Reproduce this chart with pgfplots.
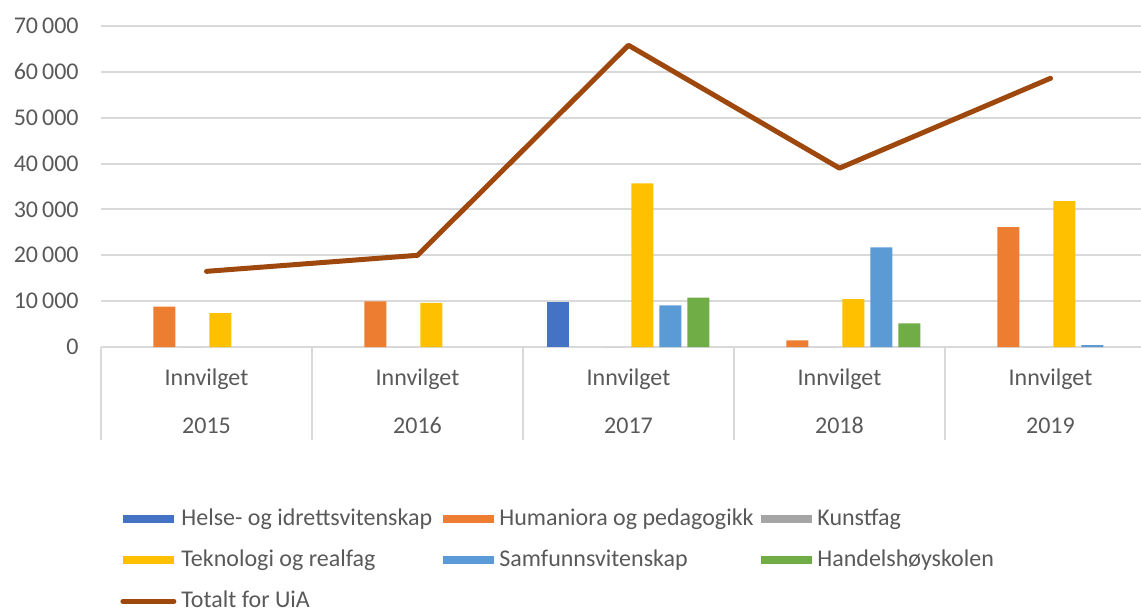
\documentclass[border=0pt]{standalone}
\usepackage{fontspec}
\setmainfont{Carlito}
\usepackage{pgfplots}
\pgfplotsset{compat=1.18}
\definecolor{cHelse}{HTML}{4472C4}
\definecolor{cHum}{HTML}{ED7D31}
\definecolor{cKunst}{HTML}{A5A5A5}
\definecolor{cTek}{HTML}{FFC000}
\definecolor{cSam}{HTML}{5B9BD5}
\definecolor{cHan}{HTML}{70AD47}
\definecolor{cTot}{HTML}{9E480E}
\definecolor{cGrid}{HTML}{D9D9D9}
\definecolor{cText}{HTML}{595959}
\newcommand{\lt}[1]{\makebox[131pt][l]{#1}}
\pgfplotsset{
  mybar/.style={ybar, bar width=11pt, draw=none,
    legend image code/.code={\fill[##1,draw=none] (0pt,-2pt) rectangle (25.5pt,2pt); \path (28pt,0pt);}},
  myline/.style={line width=2.5pt, line cap=round, line join=round, mark=none,
    legend image code/.code={\draw[##1] (0pt,0pt) -- (25.5pt,0pt); \path (28pt,0pt);}},
}
\begin{document}
\begin{tikzpicture}
\useasboundingbox (-50.5pt,-132.5pt) rectangle (520pt,173.5pt);
\begin{axis}[
  scale only axis, width=520pt, height=160.5pt,
  xmin=-0.5, xmax=4.429, ymin=0, ymax=70000,
  clip=false,
  font=\fontsize{12}{14}\selectfont,
  axis line style={draw=none},
  ytick={0,10000,...,70000},
  ymajorgrids, grid style={cGrid, line width=1pt},
  major tick length=0pt,
  y tick label style={text=cText, anchor=east, inner sep=0pt, xshift=-11pt},
  /pgf/number format/assume math mode=true,
  /pgf/number format/1000 sep={\,},
  scaled y ticks=false,
  xtick={-0.5,0.5,...,3.5}, xticklabels={}, xtick pos=left,
  x tick style={cGrid, line width=1pt},
  xtick align=outside,
  x tick style={/pgfplots/major tick length=46.5pt},
  legend columns=3,
  legend style={draw=none, fill=none, inner sep=0pt,
    at={(0,0)}, anchor=north west, xshift=9.5pt, yshift=-80pt,
    column sep=0pt, row sep=8.5pt,
    cells={anchor=west},
    nodes={inner sep=0pt, text height=9pt, text depth=3pt, text=cText},
    font=\fontsize{12}{14}\selectfont},
]
\addplot[mybar, bar shift=-35pt, fill=cHelse] coordinates {(2,9900)};
\addlegendentry{\lt{Helse- og idrettsvitenskap}}
\addplot[mybar, bar shift=-21pt, fill=cHum] coordinates {(0,8800) (1,9950) (3,1450) (4,26150)};
\addlegendentry{\lt{Humaniora og pedagogikk}}
\addplot[mybar, bar shift=-7pt, fill=cKunst] coordinates {(0,0) (1,0) (2,0) (3,0) (4,0)};
\addlegendentry{\lt{Kunstfag}}
\addplot[mybar, bar shift=7pt, fill=cTek] coordinates {(0,7400) (1,9650) (2,35700) (3,10450) (4,31800)};
\addlegendentry{\lt{Teknologi og realfag}}
\addplot[mybar, bar shift=21pt, fill=cSam] coordinates {(2,9100) (3,21700) (4,400)};
\addlegendentry{\lt{Samfunnsvitenskap}}
\addplot[mybar, bar shift=35pt, fill=cHan] coordinates {(2,10750) (3,5150)};
\addlegendentry{\lt{Handelshøyskolen}}
\addplot[myline, cTot] coordinates {(0,16500) (1,20000) (2,65800) (3,39000) (4,58600)};
\addlegendentry{\lt{Totalt for UiA}}
\pgfplotsinvokeforeach{0,...,4}{
  \node[anchor=base, text=cText, inner sep=0pt] at (axis cs:#1,0) [yshift=-19pt] {Innvilget};
}
\node[anchor=base, text=cText, inner sep=0pt] at (axis cs:0,0) [yshift=-43pt] {2015};
\node[anchor=base, text=cText, inner sep=0pt] at (axis cs:1,0) [yshift=-43pt] {2016};
\node[anchor=base, text=cText, inner sep=0pt] at (axis cs:2,0) [yshift=-43pt] {2017};
\node[anchor=base, text=cText, inner sep=0pt] at (axis cs:3,0) [yshift=-43pt] {2018};
\node[anchor=base, text=cText, inner sep=0pt] at (axis cs:4,0) [yshift=-43pt] {2019};
\end{axis}
\end{tikzpicture}
\end{document}
